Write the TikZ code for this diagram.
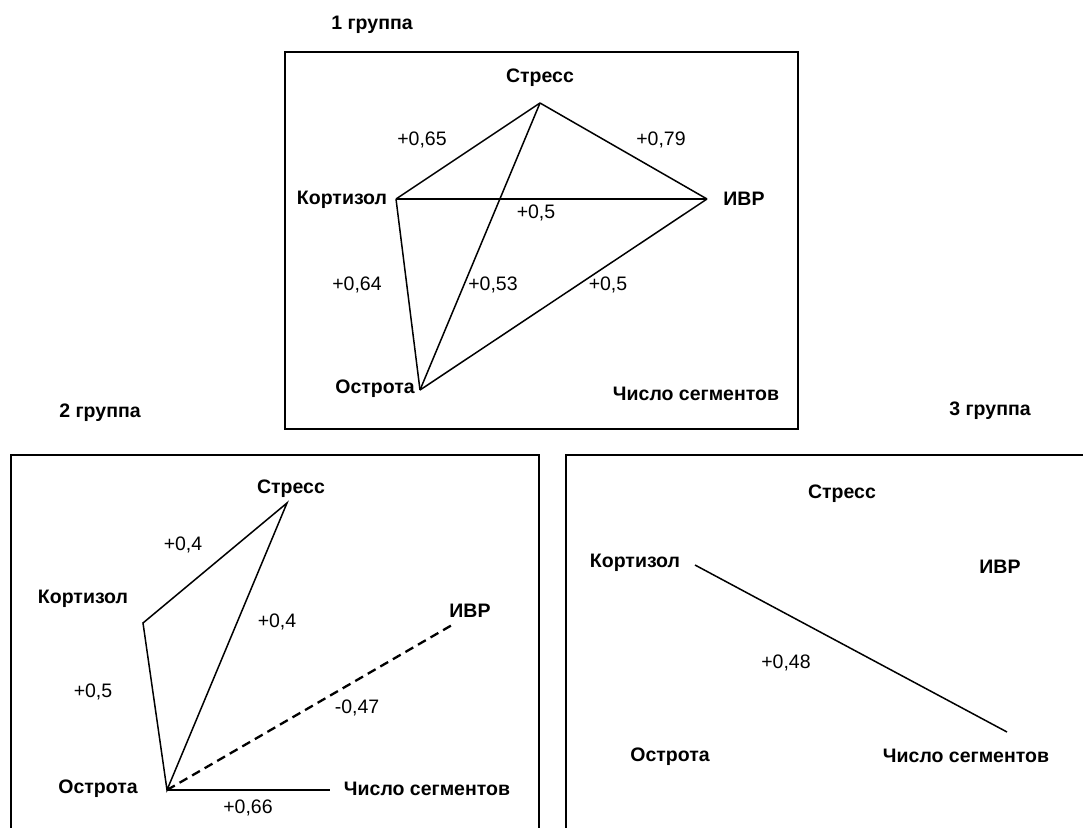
\documentclass[tikz,border=0pt]{standalone}
\usepackage{fontspec}
\setmainfont{Liberation Sans}
\begin{document}
\begin{tikzpicture}[x=1pt,y=-1pt,
  lbl/.style={font=\fontsize{19.5}{22}\selectfont\bfseries, inner sep=0pt},
  num/.style={font=\fontsize{19.5}{22}\selectfont, inner sep=0pt},
  link/.style={line width=1.5pt, line join=miter},
  dlink/.style={line width=2.3pt, dash pattern=on 9pt off 5.5pt},
  frame/.style={line width=2pt}]
\clip (0,0) rectangle (1083,827);
\fill[white] (0,0) rectangle (1083,827);

% frames
\draw[frame] (285,52) rectangle (798,429);
\draw[frame] (11,455) rectangle (539,840);
\draw[frame] (566,455) rectangle (1100,840);

% titles
\node[lbl] (t1) at (372,25) {1 группа};
\node[lbl] (t2) at (100,413) {2 группа};
\node[lbl] (t3) at (990,411) {3 группа};

% ---------- group 1 ----------
\coordinate (s1) at (540,103);
\coordinate (k1) at (396,199);
\coordinate (i1) at (707,199);
\coordinate (o1) at (420,390);
\node[lbl] (ls1) at (540,78) {Стресс};
\node[lbl] (lk1) at (342,200) {Кортизол};
\node[lbl] (li1) at (744,199) {ИВР};
\node[lbl] (lo1) at (375,389) {Острота};
\node[lbl] (lc1) at (696,394) {Число сегментов};
\draw[link] (s1) -- (k1);
\draw[link] (s1) -- (i1);
\draw[link] (k1) -- (i1);
\draw[link] (s1) -- (o1);
\draw[link] (k1) -- (o1);
\draw[link] (i1) -- (o1);
\node[num] (n11) at (422,140) {+0,65};
\node[num] (n12) at (661,140) {+0,79};
\node[num] (n13) at (536,213) {+0,5};
\node[num] (n14) at (357,285) {+0,64};
\node[num] (n15) at (493,285) {+0,53};
\node[num] (n16) at (608,285) {+0,5};

% ---------- group 2 ----------
\coordinate (s2) at (287,503);
\coordinate (k2) at (143,623);
\coordinate (i2) at (452,625);
\coordinate (o2) at (167,790);
\coordinate (c2) at (330,790);
\node[lbl] (ls2) at (291,489) {Стресс};
\node[lbl] (lk2) at (83,599) {Кортизол};
\node[lbl] (li2) at (470,611) {ИВР};
\node[lbl] (lo2) at (98,789) {Острота};
\node[lbl] (lc2) at (427,789) {Число сегментов};
\draw[link] (k2) -- (s2) -- (o2) -- cycle;
\draw[dlink] (o2) -- (i2);
\draw[link] (o2) -- (c2);
\node[num] (n21) at (183,545) {+0,4};
\node[num] (n22) at (277,622) {+0,4};
\node[num] (n23) at (93,692) {+0,5};
\node[num] (n24) at (357,708) {-0,47};
\node[num] (n25) at (248,808) {+0,66};

% ---------- group 3 ----------
\coordinate (k3) at (695,565);
\coordinate (c3) at (1007,732);
\node[lbl] (ls3) at (842,494) {Стресс};
\node[lbl] (lk3) at (635,563) {Кортизол};
\node[lbl] (li3) at (1000,567) {ИВР};
\node[lbl] (lo3) at (670,757) {Острота};
\node[lbl] (lc3) at (966,756) {Число сегментов};
\draw[link] (k3) -- (c3);
\node[num] (n31) at (786,663) {+0,48};
\end{tikzpicture}
\end{document}
